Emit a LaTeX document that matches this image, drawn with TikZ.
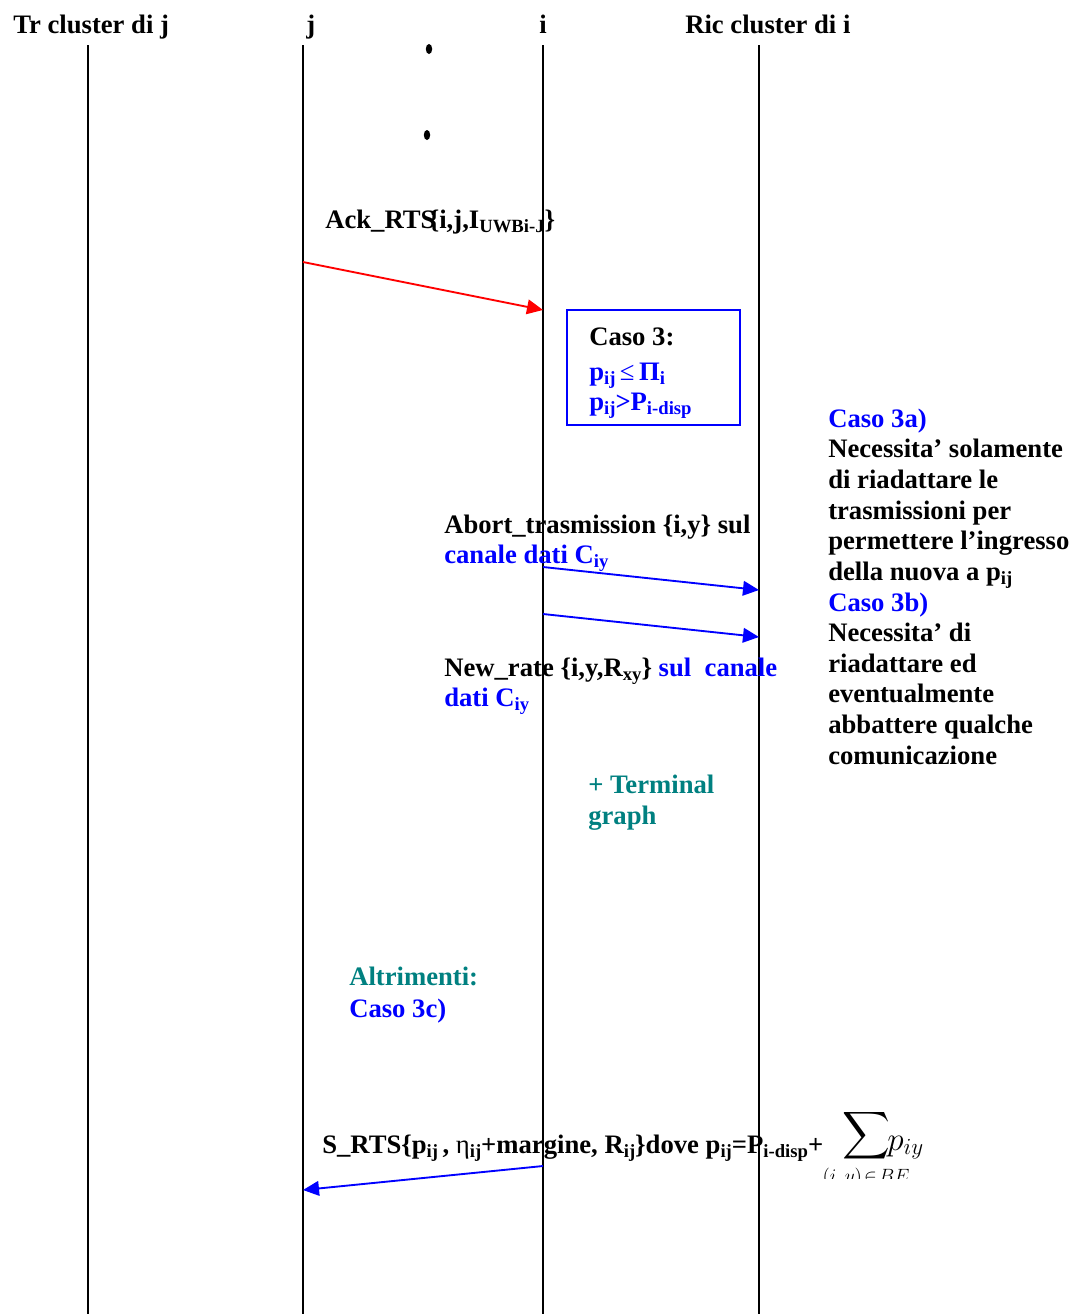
\documentclass[tikz,border=0pt]{standalone}
\usepackage{exscale}
\usepackage{fontspec}
\setmainfont{Liberation Serif}
\usetikzlibrary{arrows.meta}
\definecolor{tealtxt}{RGB}{0,128,128}
\definecolor{msgblue}{RGB}{0,0,255}
\definecolor{msgred}{RGB}{255,0,0}
% lowered, smaller subscript text
\newcommand\lo[1]{\raisebox{-0.35ex}{\fontsize{14}{14}\selectfont #1}}
\begin{document}
\begin{tikzpicture}[x=0.75pt,y=-0.75pt,
  txt/.style={anchor=base west,inner sep=0pt,font=\fontsize{20}{23}\selectfont\bfseries},
  life/.style={line width=1.5pt,black},
  msg/.style={line width=1.4pt,-{Triangle[length=12pt,width=11pt]}},
  casebox/.style={draw=msgblue,line width=1.3pt}]
\useasboundingbox (0,0) rectangle (1088,1314);

% lifeline heads
\node[txt] (hTr) at (13,33) {Tr cluster di j};
\node[txt] (hJ) at (306,33) {j};
\node[txt] (hI) at (539,33) {i};
\node[txt] (hRic) at (685,33) {Ric cluster di i};

% lifelines
\coordinate (trTop) at (88,45);   \coordinate (trBot) at (88,1314);
\coordinate (jTop) at (303,45);   \coordinate (jBot) at (303,1314);
\coordinate (iTop) at (543,45);   \coordinate (iBot) at (543,1314);
\coordinate (ricTop) at (759,45); \coordinate (ricBot) at (759,1314);
\draw[life] (trTop) -- (trBot);
\draw[life] (jTop) -- (jBot);
\draw[life] (iTop) -- (iBot);
\draw[life] (ricTop) -- (ricBot);

% ellipsis dots
\fill (429,49) ellipse (3.2 and 5);
\fill (427,135) ellipse (3.2 and 5);

% Ack_RTS message
\node[txt] (ack) at (325,228) {Ack\_RTS\kern-5pt\{i,j,I\lo{UWBi-J}\}};
\coordinate (ackS) at (303,262);
\coordinate (ackE) at (543,310);
\draw[msg,msgred] (ackS) -- (ackE);

% Caso 3 box
\draw[casebox] (567,310) rectangle (740,425);
\node[txt] (c3) at (589,345) {Caso 3:};
\node[txt,text=msgblue] (c3a) at (589,380) {p\lo{ij}\,{\mdseries ≤}\,Π\lo{i}};
\node[txt,text=msgblue] (c3b) at (589,410) {p\lo{ij}>P\lo{i-disp}};

% side notes
\node[txt,text=msgblue] (r1) at (828,427) {Caso 3a)};
\node[txt] (r2) at (828,457.7) {Necessita’ solamente};
\node[txt] (r3) at (828,488.3) {di riadattare le};
\node[txt] (r4) at (828,519) {trasmissioni per};
\node[txt] (r5) at (828,549.6) {permettere l’ingresso};
\node[txt] (r6) at (828,580.2) {della nuova a p\lo{ij}};
\node[txt,text=msgblue] (r7) at (828,611) {Caso 3b)};
\node[txt] (r8) at (828,641.5) {Necessita’ di};
\node[txt] (r9) at (828,672) {riadattare ed};
\node[txt] (r10) at (828,702.8) {eventualmente};
\node[txt] (r11) at (828,733.4) {abbattere qualche};
\node[txt] (r12) at (828,764) {comunicazione};

% Abort / New_rate messages
\node[txt] (ab1) at (444,533) {Abort\_trasmission \{i,y\} sul};
\node[txt,text=msgblue] (ab2) at (444,563) {canale dati C\lo{iy}};
\coordinate (a1S) at (543,567); \coordinate (a1E) at (759,590);
\coordinate (a2S) at (543,614); \coordinate (a2E) at (759,637);
\draw[msg,msgblue] (a1S) -- (a1E);
\draw[msg,msgblue] (a2S) -- (a2E);
\node[txt] (nr1) at (444,676) {New\_rate \{i,y,R\lo{xy}\} \textcolor{msgblue}{sul\ \ canale}};
\node[txt,text=msgblue] (nr2) at (444,706) {dati C\lo{iy}};

% terminal graph note
\node[txt,text=tealtxt] (tg1) at (588,793) {+ Terminal};
\node[txt,text=tealtxt] (tg2) at (588,824) {graph};

% otherwise case
\node[txt,text=tealtxt] (alt1) at (349,985) {Altrimenti:};
\node[txt,text=msgblue] (alt2) at (349,1017) {Caso 3c)};

% S_RTS message
\node[txt] (srts) at (322,1153) {S\_RTS\{p\lo{ij}\,, {\mdseries η}\lo{ij}+margine, R\lo{ij}\}dove p\lo{ij}=P\lo{i-disp}+};
\node[inner sep=0pt,font=\fontsize{24}{28}\selectfont] (sumsym) at (866,1136) {$\displaystyle\sum$};
\node[anchor=base west,inner sep=0pt,font=\fontsize{24}{28}\selectfont] (sumterm) at (887,1150) {$p_{iy}$};
\begin{scope}
  % summation index, cut off by the lower edge of the text frame
  \clip (815,1160) rectangle (960,1178);
  \node[anchor=north,inner sep=0pt,font=\fontsize{15}{18}\selectfont] (sumidx) at (866,1168) {$(i,y)\!\in\! BE$};
\end{scope}
\coordinate (sS) at (543,1166); \coordinate (sE) at (303,1190);
\draw[msg,msgblue] (sS) -- (sE);
\end{tikzpicture}
\end{document}
